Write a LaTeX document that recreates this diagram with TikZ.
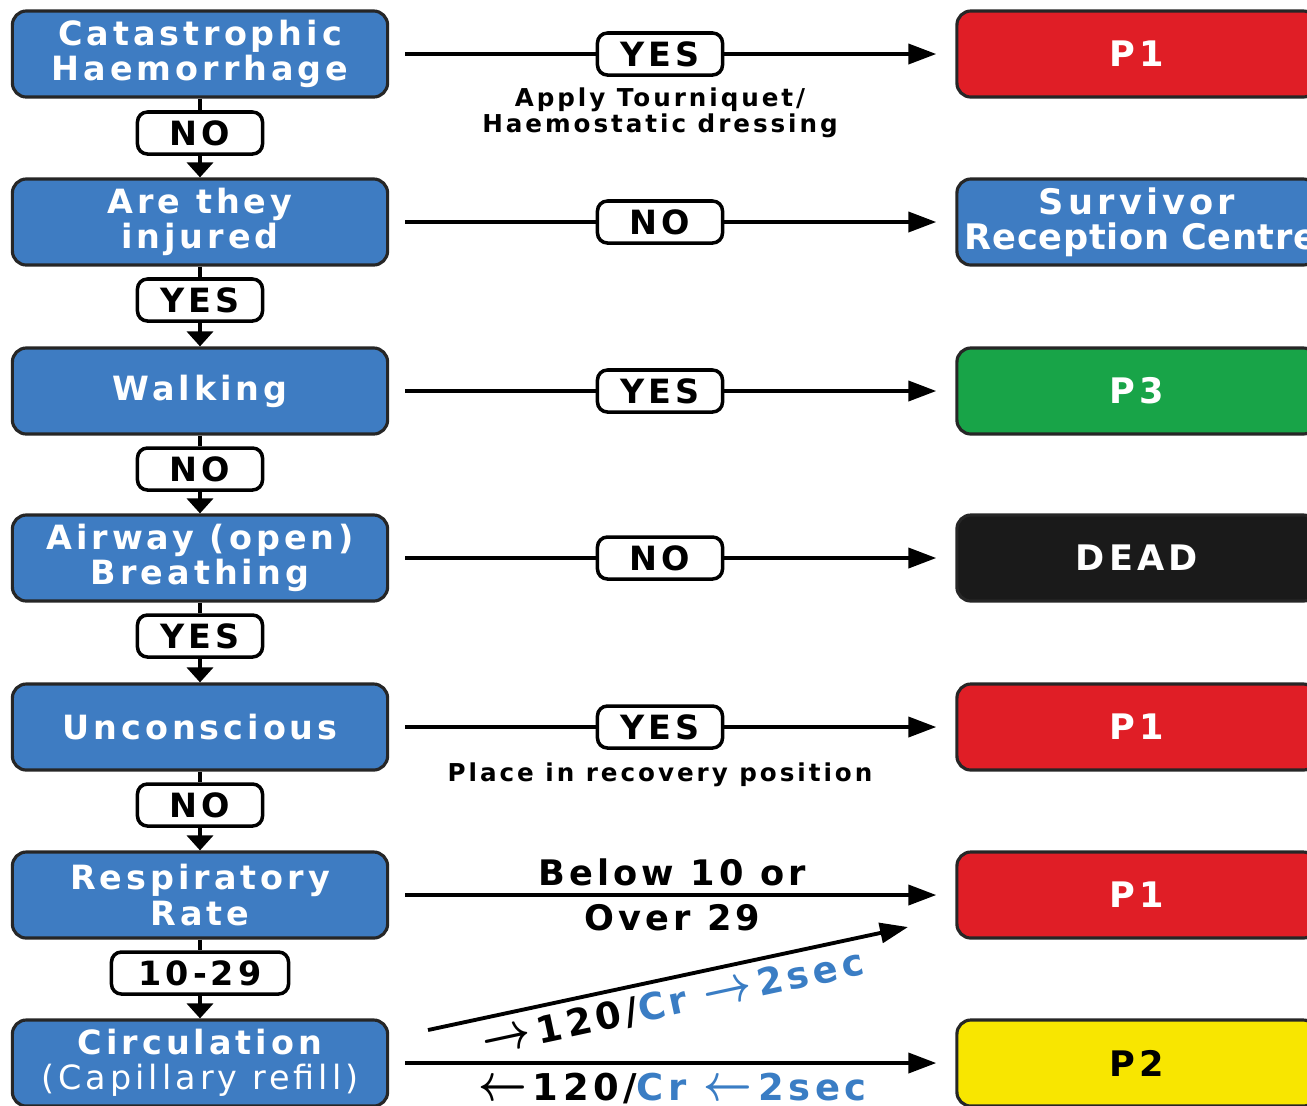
\documentclass[tikz,border=0pt]{standalone}
\usepackage{fontspec}
\setmainfont{DejaVu Sans}[LetterSpace=12]
\usepackage{tikz}
\usetikzlibrary{arrows.meta,positioning}
\definecolor{boxblue}{RGB}{62,124,194}
\definecolor{pred}{RGB}{224,30,38}
\definecolor{pgreen}{RGB}{24,164,72}
\definecolor{pyellow}{RGB}{248,230,0}
\definecolor{pdead}{RGB}{26,26,26}
\definecolor{crblue}{RGB}{58,125,196}
\newcommand{\rarr}{\scalebox{1.1}[1.35]{\boldmath\(\rightarrow\)}\,}
\newcommand{\larr}{\scalebox{1.1}[1.35]{\boldmath\(\leftarrow\)}\,}

\begin{document}
\begin{tikzpicture}[x=0.01cm, y=0.01cm]
		\tikzstyle{every node}+=[inner sep=0pt]
		\tikzstyle{qbox}=[draw=black!85, line width=0.9pt, rounded corners=0.14cm, fill=boxblue, text=white, minimum width=3.75cm, minimum height=0.86cm, align=center, font=\fontsize{9.5}{10}\selectfont\bfseries]
		\tikzstyle{tbox}=[qbox, minimum width=3.6cm, font=\fontsize{10}{10}\selectfont\bfseries]
		\tikzstyle{ans}=[draw=black, line width=1pt, fill=white, rounded corners=0.1cm, minimum width=1.25cm, minimum height=0.42cm, font=\fontsize{9.5}{10}\selectfont\bfseries]
		\tikzstyle{note}=[align=center, font=\fontsize{7}{7.5}\selectfont\bfseries]
		\tikzstyle{link}=[line width=1.1pt]
		\tikzstyle{harr}=[link, -{Triangle[length=0.28cm,width=0.2cm]}, shorten <=0.16cm, shorten >=0.19cm]
		\tikzstyle{varr}=[link, -{Triangle[length=0.15cm,width=0.26cm]}]
		\useasboundingbox (0,0) rectangle (1307,-1105);
		\clip (0,0) rectangle (1307,-1105);
		% questions
		\node [qbox] (cath) at (200,-54) {Catastrophic\\Haemorrhage};
		\node [qbox] (inj) at (200,-222) {Are they\\injured};
		\node [qbox] (walk) at (200,-391) {Walking};
		\node [qbox] (airw) at (200,-558) {Airway (open)\\Breathing};
		\node [qbox] (unc) at (200,-727) {Unconscious};
		\node [qbox] (resp) at (200,-895) {Respiratory\\Rate};
		\node [qbox] (circ) at (200,-1063) {Circulation\\{\mdseries(Capillary refill)}};
		% outcomes
		\node [tbox, fill=pred] (p1a) at (1137,-54) {P1};
		\node [tbox, text width=3.44cm] (src) at (1137,-222) {Survivor\\\mbox{\addfontfeatures{LetterSpace=2}Reception Centre}};
		\node [tbox, fill=pgreen] (p3) at (1137,-391) {P3};
		\node [tbox, fill=pdead] (dead) at (1137,-558) {DEAD};
		\node [tbox, fill=pred] (p1b) at (1137,-727) {P1};
		\node [tbox, fill=pred] (p1c) at (1137,-895) {P1};
		\node [tbox, fill=pyellow, text=black] (p2) at (1137,-1063) {P2};
		% answers down
		\node [ans] (d1) at (200,-133) {NO};
		\node [ans] (d2) at (200,-300) {YES};
		\node [ans] (d3) at (200,-469) {NO};
		\node [ans] (d4) at (200,-636) {YES};
		\node [ans] (d5) at (200,-805) {NO};
		\node [ans, minimum width=1.77cm] (d6) at (200,-973) {10-29};
		% answers across
		\node [ans] (a1) at (660,-54) {YES};
		\node [ans] (a2) at (660,-222) {NO};
		\node [ans] (a3) at (660,-391) {YES};
		\node [ans] (a4) at (660,-558) {NO};
		\node [ans] (a5) at (660,-727) {YES};
		\node [note, below=0.1cm of a1] (n1) {Apply Tourniquet/\\Haemostatic dressing};
		\node [note, below=0.12cm of a5] (n5) {Place in recovery position};
		% down the left
		\draw [link] (cath) -- (d1);
		\draw [varr] (d1) -- (inj);
		\draw [link] (inj) -- (d2);
		\draw [varr] (d2) -- (walk);
		\draw [link] (walk) -- (d3);
		\draw [varr] (d3) -- (airw);
		\draw [link] (airw) -- (d4);
		\draw [varr] (d4) -- (unc);
		\draw [link] (unc) -- (d5);
		\draw [varr] (d5) -- (resp);
		\draw [link] (resp) -- (d6);
		\draw [varr] (d6) -- (circ);
		% across
		\draw [link, shorten <=0.16cm] (cath) -- (a1);
		\draw [harr, shorten <=0pt] (a1) -- (p1a);
		\draw [link, shorten <=0.16cm] (inj) -- (a2);
		\draw [harr, shorten <=0pt] (a2) -- (src);
		\draw [link, shorten <=0.16cm] (walk) -- (a3);
		\draw [harr, shorten <=0pt] (a3) -- (p3);
		\draw [link, shorten <=0.16cm] (airw) -- (a4);
		\draw [harr, shorten <=0pt] (a4) -- (dead);
		\draw [link, shorten <=0.16cm] (unc) -- (a5);
		\draw [harr, shorten <=0pt] (a5) -- (p1b);
		\draw [harr] (resp) -- node [align=center, font=\fontsize{10}{11.7}\selectfont\bfseries] {Below 10 or\\[1pt]Over 29} (p1c);
		\coordinate (cs) at (428,-1030);
		\coordinate (ce) at (908,-927);
		\draw [link, -{Triangle[length=0.28cm,width=0.2cm]}] (cs) -- node [sloped, below=0.08cm, font=\fontsize{10.5}{11}\selectfont\bfseries] {\rarr120/\textcolor{crblue}{Cr \rarr2sec}} (ce);
		\draw [harr] (circ) -- node [below=0.08cm, font=\fontsize{10.5}{11}\selectfont\bfseries] {\larr120/\textcolor{crblue}{Cr \larr2sec}} (p2);
	\end{tikzpicture}
\end{document}
